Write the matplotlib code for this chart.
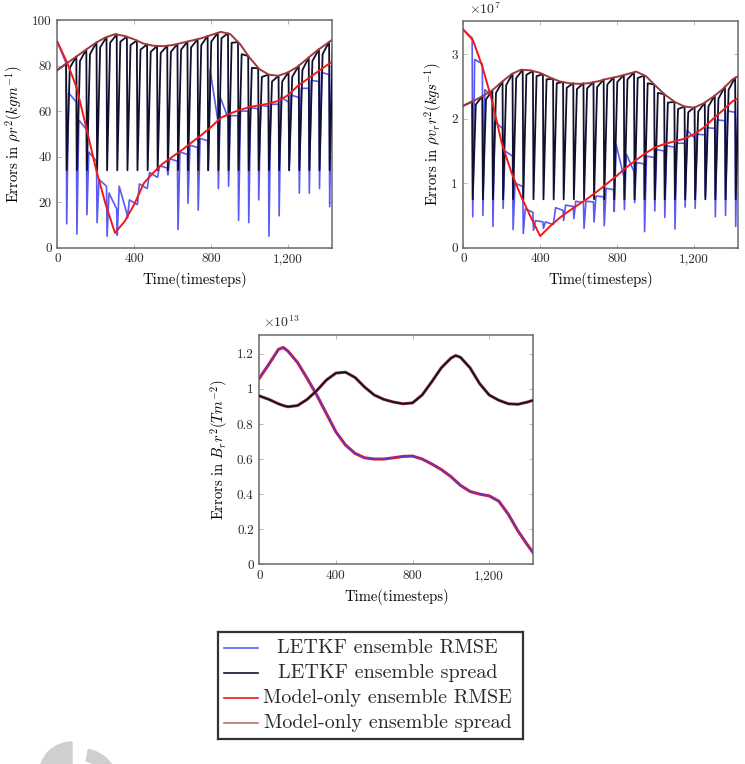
import matplotlib.pyplot as plt
import numpy as np
from matplotlib.patches import Wedge
from matplotlib.ticker import FuncFormatter, MultipleLocator

plt.rcParams.update({
    "font.family": "cmr10",
    "mathtext.fontset": "cm",
    "axes.formatter.use_mathtext": True,
    "axes.unicode_minus": False,
    "text.color": "#2a2a2a",
})

# ---- data ----
X_MAX = 1430
# model-only curves are read every 50 timesteps (+ the last point)
T_MODEL = [0, 50, 100, 150, 200, 250, 300, 350, 400, 450, 500, 550, 600, 650, 700,
           750, 800, 850, 900, 950, 1000, 1050, 1100, 1150, 1200, 1250, 1300, 1350,
           1400, 1430]
# timesteps where the LETKF analysis is applied
T_ASSIM = [47, 100, 152, 205, 257, 310, 363, 415, 468, 520, 573, 626, 678, 731, 783,
           836, 889, 941, 994, 1046, 1099, 1152, 1204, 1257, 1309, 1362, 1415]

# panel 1: rho r^2
P1_MODEL_RMSE = [90.5, 81.5, 70.5, 53, 35, 19.5, 6.5, 11.5, 19, 28.3, 33, 37, 40, 43,
                 46.3, 49.5, 53, 57, 59, 60.5, 61.8, 62.5, 63.3, 64.5, 67, 71, 74, 77,
                 80, 81.7]
P1_MODEL_SPREAD = [78, 81, 84, 87, 90, 92.3, 93.8, 93, 91.5, 89.6, 88.7, 88.5, 89, 90,
                   91, 92, 93.4, 94.8, 93.8, 89.5, 83.5, 78.5, 76, 75.5, 77, 79.5, 83,
                   86.5, 89.5, 91.3]
P1_SPREAD_PEAK = [80.8, 84, 87.1, 90.2, 92.5, 93.7, 92.7, 91, 89.3, 88.6, 88.7, 89.5,
                  90.5, 91.6, 93, 94.4, 94.2, 90.3, 84.2, 78.8, 76, 75.5, 77.2, 80,
                  83.6, 87.2, 90.4]
P1_SPREAD_REC = [79, 82, 85, 88, 90, 90.5, 89, 87, 86, 85.5, 86, 87, 88, 89, 90.5, 92,
                 90, 85, 79, 75, 73, 73, 75, 78, 82, 85, 88]
P1_SPREAD_FLOOR = 34
P1_RMSE_END = [81, 64, 52, 38, 27, 17, 15, 19, 26, 31, 35, 38, 41, 44, 47, 56, 57, 58,
               60, 61, 62, 63, 64, 66, 70, 73, 76, 80]
P1_RMSE_TROUGH = [10.5, 6, 14.5, 11, 5, 5.5, 13, 19, 27, 31, 32, 8, 19.5, 16.5, 34, 26,
                  27, 12, 11, 21, 5, 14, 34, 24, 24, 26, 18]
P1_RMSE_PEAK = [68, 56, 42, 30, 24, 27, 21, 28, 33, 36, 39, 42, 45, 48, 78, 66, 58, 60,
                61.5, 62.5, 63, 66, 67, 70, 73.5, 77, 80]

# panel 2: rho v_r r^2 (units of 1e7)
P2_MODEL_RMSE = [3.38, 3.22, 2.80, 2.27, 1.62, 1.17, 0.80, 0.48, 0.18, 0.33, 0.46, 0.57,
                 0.67, 0.77, 0.88, 1.00, 1.12, 1.25, 1.36, 1.47, 1.56, 1.61, 1.65, 1.69,
                 1.76, 1.86, 2.00, 2.13, 2.27, 2.32]
P2_MODEL_SPREAD = [2.20, 2.27, 2.35, 2.44, 2.57, 2.69, 2.76, 2.75, 2.71, 2.64, 2.58,
                   2.55, 2.54, 2.55, 2.58, 2.62, 2.65, 2.69, 2.73, 2.66, 2.51, 2.37,
                   2.26, 2.19, 2.17, 2.24, 2.34, 2.46, 2.61, 2.66]
P2_SPREAD_PEAK = [2.27, 2.35, 2.44, 2.58, 2.70, 2.76, 2.74, 2.69, 2.62, 2.57, 2.55,
                  2.55, 2.57, 2.61, 2.64, 2.68, 2.72, 2.67, 2.53, 2.38, 2.26, 2.19,
                  2.18, 2.25, 2.36, 2.50, 2.64]
P2_SPREAD_REC = [2.22, 2.30, 2.40, 2.52, 2.63, 2.68, 2.66, 2.61, 2.55, 2.48, 2.46, 2.47,
                 2.49, 2.53, 2.57, 2.61, 2.63, 2.55, 2.40, 2.25, 2.15, 2.10, 2.11, 2.19,
                 2.31, 2.45, 2.58]
P2_SPREAD_FLOOR = 0.75
P2_RMSE_END = [3.25, 2.85, 2.35, 1.85, 1.42, 0.95, 0.55, 0.40, 0.36, 0.58, 0.64, 0.70,
               0.71, 0.79, 0.90, 1.10, 1.18, 1.30, 1.40, 1.50, 1.56, 1.62, 1.70, 1.75,
               1.85, 1.97, 2.10, 2.28]
P2_RMSE_TROUGH = [0.48, 0.50, 0.33, 0.61, 0.28, 0.22, 0.27, 0.30, 0.40, 0.42, 0.45, 0.30,
                  0.40, 0.34, 0.56, 0.59, 0.70, 0.25, 0.57, 0.47, 0.29, 0.63, 0.61, 0.80,
                  0.48, 0.50, 0.33]
P2_RMSE_PEAK = [2.92, 2.45, 1.95, 1.50, 1.00, 0.60, 0.42, 0.40, 0.62, 0.66, 0.72, 0.72,
                0.80, 0.92, 1.60, 1.45, 1.32, 1.42, 1.52, 1.58, 1.62, 1.82, 1.76, 1.86,
                1.98, 2.12, 2.26]

# panel 3: B_r r^2 (units of 1e13) - LETKF and model-only lie on top of each other
T_P3 = [0, 50, 100, 125, 150, 200, 250, 300, 350, 400, 450, 500, 550, 600, 650, 700,
        750, 800, 850, 900, 950, 1000, 1025, 1050, 1100, 1150, 1200, 1250, 1300, 1350,
        1400, 1430]
P3_RMSE = [1.06, 1.14, 1.225, 1.236, 1.215, 1.15, 1.06, 0.965, 0.86, 0.755, 0.68, 0.632,
           0.607, 0.60, 0.60, 0.607, 0.615, 0.617, 0.60, 0.572, 0.54, 0.50, 0.475, 0.45,
           0.415, 0.40, 0.39, 0.36, 0.285, 0.19, 0.11, 0.065]
P3_SPREAD = [0.96, 0.94, 0.915, 0.905, 0.898, 0.905, 0.94, 0.99, 1.05, 1.09, 1.095,
             1.065, 1.01, 0.965, 0.94, 0.925, 0.915, 0.92, 0.965, 1.04, 1.12, 1.175,
             1.19, 1.18, 1.12, 1.03, 0.965, 0.935, 0.915, 0.912, 0.925, 0.935]

LABELS = ["LETKF ensemble RMSE", "LETKF ensemble spread",
          "Model-only ensemble RMSE", "Model-only ensemble spread"]

# ---- style ----
C_BLUE = "#3d3df2"
C_DARK = "#10102e"
C_RED = "#f01818"
C_BROWN = "#a03a3a"
FRAME = "#6a6a6a"
RISE_SPREAD = 18   # timesteps for the spread to climb back after an analysis
RISE_RMSE = 12


def spread_path(start, peaks, recs, floor):
    xs, ys = [0], [start]
    for t, p, r in zip(T_ASSIM, peaks, recs):
        xs += [t - 1, t + 2, t + RISE_SPREAD]
        ys += [p, floor, r]
    return xs, ys


def rmse_path(start, ends, troughs, peaks):
    xs, ys = [0], [start]
    for i, t in enumerate(T_ASSIM):
        xs += [t - 1, t + 2, t + RISE_RMSE]
        ys += [ends[i], troughs[i], peaks[i]]
    xs.append(X_MAX)
    ys.append(ends[-1])
    return xs, ys


def style_axes(ax, ymax, ystep, ylabel, yfmt):
    ax.set_xlim(0, X_MAX)
    ax.set_ylim(0, ymax)
    ax.xaxis.set_major_locator(MultipleLocator(400))
    ax.yaxis.set_major_locator(MultipleLocator(ystep))
    ax.xaxis.set_major_formatter(FuncFormatter(lambda v, _: f"{v:,.0f}"))
    ax.yaxis.set_major_formatter(FuncFormatter(yfmt))
    ax.tick_params(direction="in", length=3, width=0.6, color="#aaaaaa",
                   top=True, right=True, labelsize=9.5, labelcolor="#2a2a2a", pad=4)
    for s in ax.spines.values():
        s.set_color(FRAME)
        s.set_linewidth(1.1)
    ax.set_xlabel("Time(timesteps)", fontsize=10.5, labelpad=5)
    ax.set_ylabel(ylabel, fontsize=10.5, labelpad=5)


fig = plt.figure(figsize=(7.45, 7.64), dpi=100)
ax1 = fig.add_axes([0.0769, 0.6758, 0.369, 0.298])
ax2 = fig.add_axes([0.6219, 0.6758, 0.369, 0.2971])
ax3 = fig.add_axes([0.348, 0.2614, 0.3678, 0.3001])

panels = [
    (ax1, P1_MODEL_RMSE, P1_MODEL_SPREAD, P1_SPREAD_PEAK, P1_SPREAD_REC, P1_SPREAD_FLOOR,
     P1_RMSE_END, P1_RMSE_TROUGH, P1_RMSE_PEAK),
    (ax2, P2_MODEL_RMSE, P2_MODEL_SPREAD, P2_SPREAD_PEAK, P2_SPREAD_REC, P2_SPREAD_FLOOR,
     P2_RMSE_END, P2_RMSE_TROUGH, P2_RMSE_PEAK),
]
for ax, mr, ms, sp, sr, sf, re, rt, rp in panels:
    bx, by = rmse_path(mr[0], re, rt, rp)
    ax.plot(bx, by, color=C_BLUE, lw=1.2, alpha=0.85, zorder=2)
    dx, dy = spread_path(ms[0], sp, sr, sf)
    ax.plot(dx, dy, color=C_DARK, lw=1.3, zorder=3)
    ax.plot(T_MODEL, mr, color=C_RED, lw=1.4, zorder=4)
    ax.plot(T_MODEL, ms, color=C_BROWN, lw=1.4, zorder=4)

# panel 3: model-only drawn underneath, LETKF on top
ax3.plot(T_P3, P3_RMSE, color=C_RED, lw=2.2, zorder=2)
ax3.plot(T_P3, P3_SPREAD, color=C_BROWN, lw=2.2, zorder=2)
ax3.plot(T_P3, P3_RMSE, color=C_BLUE, lw=1.2, alpha=0.8, zorder=3)
ax3.plot(T_P3, P3_SPREAD, color=C_DARK, lw=1.2, zorder=3)

style_axes(ax1, 100, 20, r"Errors in $\rho r^2(kgm^{-1})$", lambda v, _: f"{v:.0f}")
style_axes(ax2, 3.52, 1, r"Errors in $\rho v_r r^2(kgs^{-1})$", lambda v, _: f"{v:.0f}")
style_axes(ax3, 1.307, 0.2, r"Errors in $B_r r^2(Tm^{-2})$", lambda v, _: f"{v:g}")
ax2.text(0.02, 1.015, r"$\times10^{7}$", transform=ax2.transAxes, fontsize=10,
         va="bottom", ha="left", color="#2a2a2a")
ax3.text(0.014, 1.02, r"$\times10^{13}$", transform=ax3.transAxes, fontsize=10,
         va="bottom", ha="left", color="#2a2a2a")

# legend box with centred entries
axl = fig.add_axes([0.293, 0.0323, 0.4086, 0.1408])
axl.set_xlim(0, 1)
axl.set_ylim(0, 1)
axl.set_xticks([])
axl.set_yticks([])
for s in axl.spines.values():
    s.set_color("#333333")
    s.set_linewidth(1.6)
for row, (lab, col, al) in enumerate(zip(LABELS, [C_BLUE, C_DARK, C_RED, "#c07070"],
                                          [0.85, 1, 1, 1])):
    yy = 0.849 - row * 0.2327
    axl.plot([0.019, 0.13], [yy, yy], color=col, lw=1.2, alpha=al)
    axl.text(0.556, yy, lab, ha="center", va="center", fontsize=14.5, color="#2a2a2a")

# journal watermark, cut by the bottom edge
fig.add_artist(Wedge((0.72, -0.11), 0.33, 90, 270, color="#cfcfcf",
                     transform=fig.dpi_scale_trans))
fig.add_artist(Wedge((0.82, -0.21), 0.36, -40, 80, width=0.12, color="#cfcfcf",
                     transform=fig.dpi_scale_trans))

fig.savefig("out.png", dpi=100)
